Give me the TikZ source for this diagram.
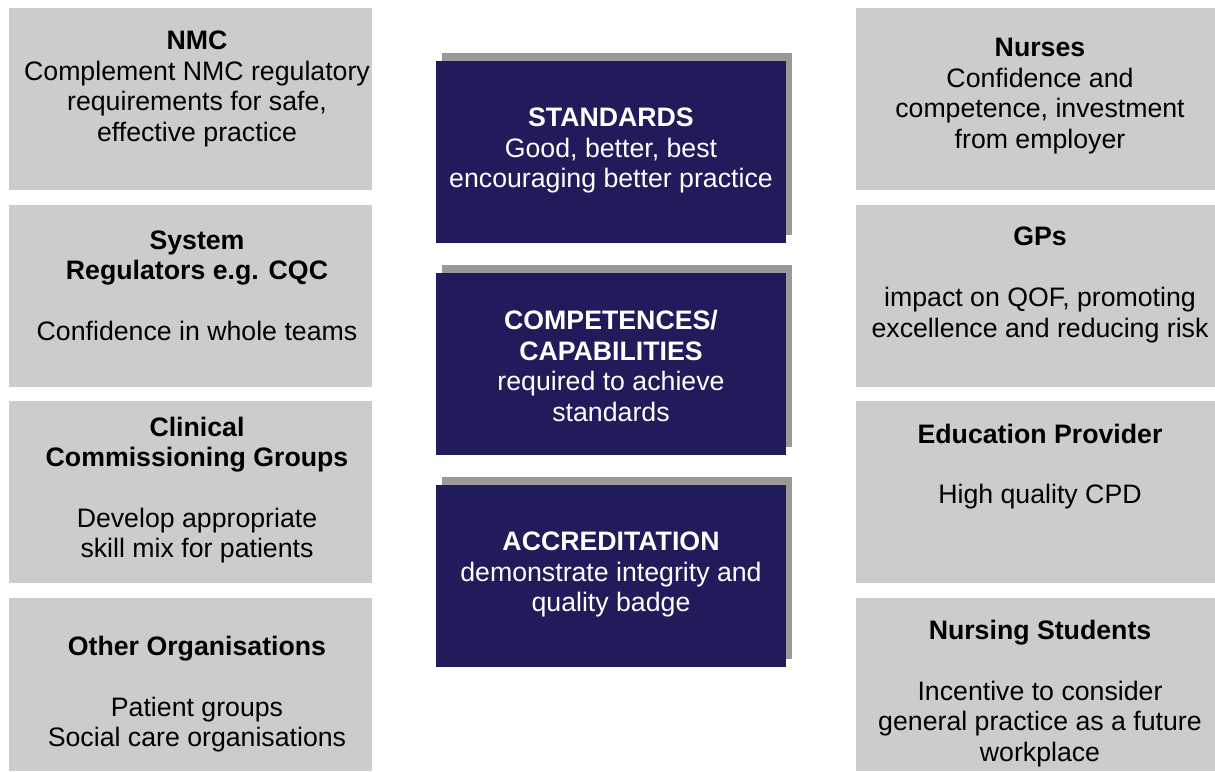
\documentclass[tikz,border=0pt]{standalone}
\usepackage{fontspec}
\setmainfont{Liberation Sans}
\usepackage{tikz}
\usetikzlibrary{positioning}
\definecolor{boxgray}{RGB}{204,204,204}
\definecolor{navyblue}{RGB}{32,28,92}
\definecolor{shadegray}{RGB}{153,153,153}

\begin{document}
\begin{tikzpicture}[x=1pt, y=-1pt,
	side/.style={fill=boxgray, minimum width=363pt, minimum height=182pt, inner sep=0pt},
	core/.style={fill=navyblue, minimum width=350pt, minimum height=182pt, inner sep=0pt},
	coreshade/.style={fill=shadegray, minimum width=350pt, minimum height=182pt, inner sep=0pt},
	txt/.style={align=center, inner sep=0pt, font=\fontsize{26.7}{30.4}\selectfont},
	wtxt/.style={txt, text=white}]
\useasboundingbox (0,0) rectangle (1215,771);

% left column
\node[side] (nmc) at (190.5, 99) {};
\node[side] (sysreg) at (190.5, 296) {};
\node[side] (ccg) at (190.5, 492) {};
\node[side, minimum height=173pt] (other) at (190.5, 684.5) {};
\node[txt] (nmcT) at (197, 89) {\textbf{NMC}\\Complement NMC regulatory\\requirements for safe,\\effective practice};
\node[txt] (sysregT) at (197, 285.5) {\textbf{System}\\\textbf{Regulators e.g. CQC}\\[30.4pt]Confidence in whole teams};
\node[txt] (ccgT) at (197, 490) {\textbf{Clinical}\\\textbf{Commissioning Groups}\\[30.4pt]Develop appropriate\\skill mix for patients};
\node[txt] (otherT) at (197, 694) {\textbf{Other Organisations}\\[30.4pt]Patient groups\\Social care organisations};

% right column
\node[side, minimum width=359pt] (nurses) at (1035.5, 99) {};
\node[side, minimum width=359pt] (gps) at (1035.5, 296) {};
\node[side, minimum width=359pt] (edu) at (1035.5, 492) {};
\node[side, minimum width=359pt, minimum height=173pt] (students) at (1035.5, 684.5) {};
\node[txt] (nursesT) at (1040, 96) {\textbf{Nurses}\\Confidence and\\competence, investment\\from employer};
\node[txt] (gpsT) at (1040, 285) {\textbf{GPs}\\[30.4pt]impact on QOF, promoting\\excellence and reducing risk};
\node[txt] (eduT) at (1040, 466.5) {\textbf{Education Provider}\\[30.4pt]High quality CPD};
\node[txt] (studentsT) at (1040, 693.5) {\textbf{Nursing Students}\\[30.4pt]Incentive to consider\\general practice as a future\\workplace};

% middle column
\node[coreshade] (stdS) at (617, 144) {};
\node[core] (std) at (611, 152) {};
\node[wtxt] (stdT) at (611, 150.5) {\textbf{STANDARDS}\\Good, better, best\\encouraging better practice};
\node[coreshade] (compS) at (617, 356) {};
\node[core] (comp) at (611, 363.5) {};
\node[wtxt] (compT) at (611, 366) {\textbf{COMPETENCES/}\\\textbf{CAPABILITIES}\\required to achieve\\standards};
\node[coreshade] (accrS) at (617, 568) {};
\node[core] (accr) at (611, 576) {};
\node[wtxt] (accrT) at (611, 574.5) {\textbf{ACCREDITATION}\\demonstrate integrity and\\quality badge};
\end{tikzpicture}
\end{document}
